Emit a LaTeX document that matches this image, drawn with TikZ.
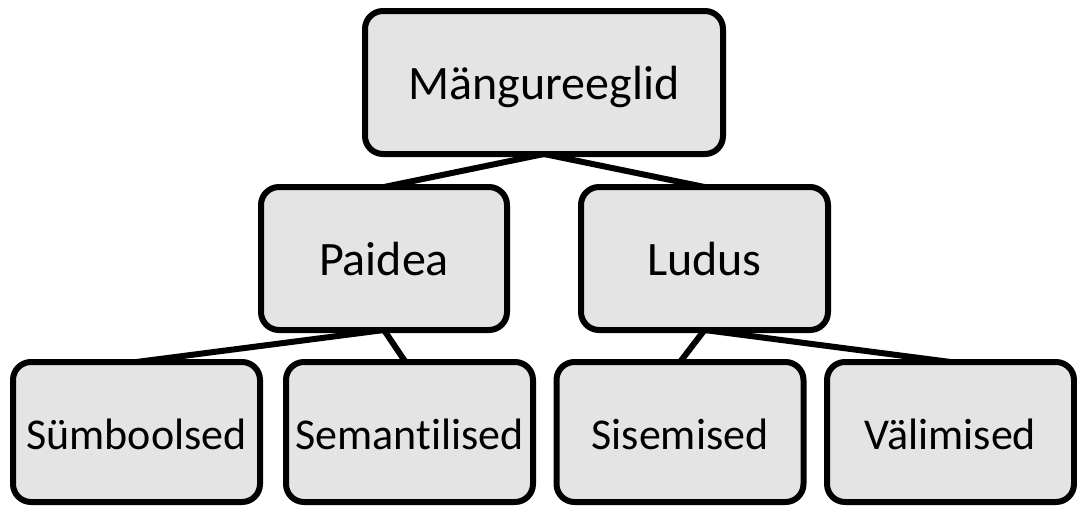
\documentclass[tikz,border=0pt]{standalone}
\usepackage{fontspec}
\setmainfont{Carlito}[Ligatures=NoCommon]
\usetikzlibrary{backgrounds}
\definecolor{boxfill}{RGB}{228,228,228}
\tikzset{
  box/.style={draw=black, fill=boxfill, line width=6pt, rounded corners=18pt,
    inner sep=0pt, outer sep=0pt, text depth=0pt},
  upper/.style={box, minimum height=143pt, font=\fontsize{48}{58}\selectfont, text height=34pt},
  lower/.style={box, minimum width=247pt, minimum height=140pt,
    font=\fontsize{44}{53}\selectfont, text height=35pt},
  link/.style={draw=black, line width=6pt}
}
\begin{document}
\begin{tikzpicture}[x=1pt, y=-1pt]
  \useasboundingbox (0,0) rectangle (1077,506);

  % root
  \node[upper, minimum width=358pt] (root) at (544,82.5) {Mängureeglid};

  % second level
  \node[upper, minimum width=246pt] (paidea) at (384,258.5) {Paidea};
  \node[upper, minimum width=247pt] (ludus) at (704.5,258.5) {Ludus};

  % leaves
  \node[lower] (symb) at (136.5,432) {Sümboolsed};
  \node[lower] (sem) at (409.5,432) {Semantilised};
  \node[lower] (sis) at (680,432) {Sisemised};
  \node[lower] (val) at (950.5,432) {Välimised};

  % tree edges, kept behind the boxes
  \begin{scope}[on background layer]
    \draw[link] (root.south) -- (paidea.north);
    \draw[link] (root.south) -- (ludus.north);
    \draw[link] (paidea.south) -- (symb.north);
    \draw[link] (paidea.south) -- ([xshift=-4pt]sem.north);
    \draw[link] (ludus.south) -- (sis.north);
    \draw[link] (ludus.south) -- (val.north);
  \end{scope}
\end{tikzpicture}
\end{document}
